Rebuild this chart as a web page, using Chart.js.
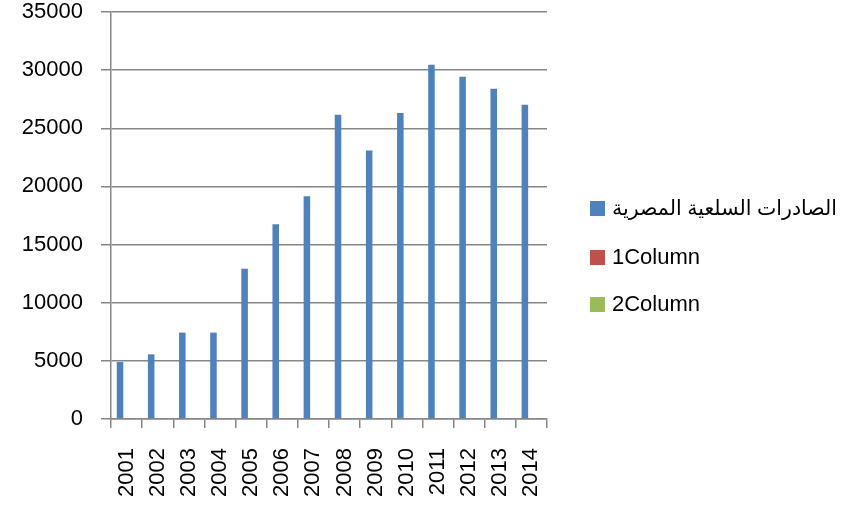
<!DOCTYPE html>
<html>
<head>
<meta charset="utf-8">
<script src="https://cdn.jsdelivr.net/npm/chart.js@4"></script>
<style>
  html, body { margin: 0; padding: 0; background: #fff; }
  #wrap { width: 846px; height: 511px; }
</style>
</head>
<body>
<div id="wrap"><canvas id="exportChart"></canvas></div>
<script>
const years = ['2001','2002','2003','2004','2005','2006','2007','2008','2009','2010','2011','2012','2013','2014'];
const exportsEgypt = [4900, 5560, 7430, 7430, 12930, 16740, 19150, 26170, 23080, 26310, 30470, 29440, 28410, 27030];
const column1 = [];
const column2 = [];
const seriesNames = ['الصادرات السلعية المصرية', '1Column', '2Column'];
const yTicks = [0, 5000, 10000, 15000, 20000, 25000, 30000, 35000];

const FONT = '"Liberation Sans", Arial, "DejaVu Sans", sans-serif';
Chart.defaults.font.family = FONT;
Chart.defaults.font.size = 22;
Chart.defaults.color = '#000';

// legend drawn by hand so it sits where Excel put it
const sideLegend = {
  id: 'sideLegend',
  afterDraw(chart) {
    const c = chart.ctx;
    const x = 590, ys = [208, 257, 304];
    c.save();
    c.textBaseline = 'middle';
    c.textAlign = 'left';
    chart.data.datasets.forEach((ds, i) => {
      let size = 22;
      c.font = size + 'px ' + FONT;
      // keep the long arabic label inside the canvas
      while (c.measureText(ds.label).width > 230 && size > 14) {
        size -= 0.5;
        c.font = size + 'px ' + FONT;
      }
      c.fillStyle = ds.backgroundColor;
      c.fillRect(x, ys[i] - 7, 15, 15);
      c.fillStyle = '#000';
      c.fillText(ds.label, x + 22, ys[i] + 1);
    });
    c.restore();
  }
};

const ctx = document.getElementById('exportChart').getContext('2d');
new Chart(ctx, {
  type: 'bar',
  data: {
    labels: years,
    datasets: [
      {label: seriesNames[0], data: exportsEgypt, backgroundColor: '#4F81BD'},
      {label: seriesNames[1], data: column1, backgroundColor: '#C0504D'},
      {label: seriesNames[2], data: column2, backgroundColor: '#9BBB59'}
    ]
  },
  options: {
    responsive: true,
    maintainAspectRatio: false,
    animation: false,
    layout: {padding: {left: 0, right: 299, top: 12, bottom: 0}},
    datasets: {bar: {categoryPercentage: 0.63, barPercentage: 1}},
    plugins: {
      tooltip: {enabled: false},
      legend: {display: false}
    },
    scales: {
      x: {
        grid: {display: true, drawOnChartArea: false, color: '#868686', lineWidth: 1.5, tickLength: 9, offset: true},
        border: {color: '#868686', width: 1.5},
        ticks: {minRotation: 90, maxRotation: 90, autoSkip: false, padding: 20},
        afterFit: s => { s.height = 92; s.paddingTop = 0; s.paddingLeft = 0; s.paddingRight = 0; }
      },
      y: {
        min: 0, max: 35000,
        afterBuildTicks: s => { s.ticks = yTicks.map(v => ({value: v})); },
        grid: {color: '#868686', lineWidth: 1.5, tickLength: 10},
        border: {color: '#868686', width: 1.5},
        ticks: {padding: 18, callback: v => String(v)},
        afterFit: s => { s.width = 111; s.paddingTop = 0; s.paddingBottom = 0; }
      }
    }
  },
  plugins: [sideLegend]
});
</script>
</body>
</html>
